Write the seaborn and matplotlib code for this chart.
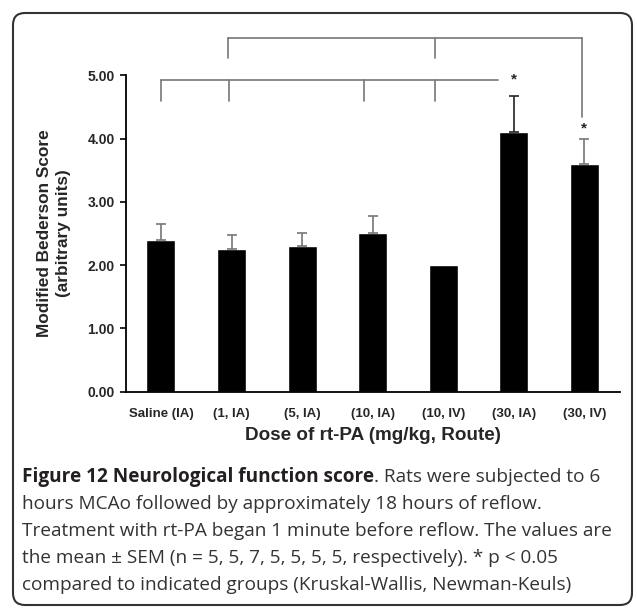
import matplotlib
matplotlib.use("Agg")
import matplotlib.pyplot as plt
import matplotlib.transforms as mtransforms
from matplotlib.patches import FancyBboxPatch
from matplotlib.ticker import FixedLocator, FormatStrFormatter
import pandas as pd
import seaborn as sns

""" Données """
groups = ["Saline (IA)", "(1, IA)", "(5, IA)", "(10, IA)", "(10, IV)", "(30, IA)", "(30, IV)"]
score_mean = [2.40, 2.25, 2.30, 2.50, 2.00, 4.10, 3.60]
score_sem = [0.25, 0.22, 0.20, 0.28, 0.00, 0.57, 0.40]

df = pd.DataFrame({"group": groups, "score": score_mean})

sns.set_style("white")
plt.rcParams['font.family'] = ['Liberation Sans Narrow', 'Liberation Sans', 'DejaVu Sans']

fig = plt.figure(figsize=(6.37, 6.09), dpi=100)
ax = fig.add_axes([0.1973, 0.3571, 0.7755, 0.5193])

sns.barplot(data=df, x="group", y="score", color="black", width=0.41,
            saturation=1, errorbar=None, ax=ax)

# barres d'erreur (SEM, côté haut seulement)
for i, (m, s) in enumerate(zip(score_mean, score_sem)):
    if s > 0:
        c = "#222222" if i == 5 else "#777777"
        ax.errorbar(i, m, yerr=[[0], [s]], fmt="none", ecolor=c,
                    elinewidth=1.2, capsize=3.5, capthick=1.2)

ax.set_xlim(-0.5, 6.5)
ax.set_ylim(0, 5)
ax.set_yticks([0, 1, 2, 3, 4, 5])
ax.yaxis.set_major_formatter(FormatStrFormatter("%.2f"))
ax.xaxis.set_minor_locator(FixedLocator([0.5, 1.5, 2.5, 3.5, 4.5, 5.5, 6.5]))
ax.tick_params(axis="x", which="major", length=0, pad=12, labelsize=9.5)
ax.tick_params(axis="x", which="minor", length=4, width=1.2, direction="out", color="black")
ax.tick_params(axis="y", length=4, width=1.2, direction="out", color="black", labelsize=10, pad=4)
ax.tick_params(bottom=True, left=True)
for lab in ax.get_xticklabels() + ax.get_yticklabels():
    lab.set_fontweight("bold")

sns.despine(ax=ax)
for sp in ["left", "bottom"]:
    ax.spines[sp].set_color("black")
    ax.spines[sp].set_linewidth(1.3)

ax.set_xlabel("Dose of rt-PA (mg/kg, Route)", fontsize=13.6, fontweight="bold",
              family=['Liberation Sans', 'DejaVu Sans'], labelpad=5)
ax.set_ylabel("Modified Bederson Score\n(arbitrary units)", fontsize=12.4, fontweight="bold",
              family=['Liberation Sans', 'DejaVu Sans'], labelpad=12, linespacing=1.3)

# crochets de comparaison
br = dict(color="#777777", lw=1.2, clip_on=False)
ax.plot([0, 4.77], [4.93, 4.93], **br)
for xb in [0, 0.97, 2.88, 3.88]:
    ax.plot([xb, xb], [4.93, 4.59], **br)
ax.plot([0.95, 5.96], [5.59, 5.59], **br)
ax.plot([0.95, 0.95], [5.59, 5.27], **br)
ax.plot([3.88, 3.88], [5.59, 5.28], **br)
ax.plot([5.96, 5.96], [5.59, 4.34], **br)
ax.text(5, 4.94, "*", ha="center", va="center", fontsize=11, fontweight="bold")
ax.text(6, 4.16, "*", ha="center", va="center", fontsize=11, fontweight="bold")

# cadre arrondi
box = FancyBboxPatch((13, 4), 619, 592, boxstyle="round,pad=0,rounding_size=12",
                     transform=mtransforms.IdentityTransform(), fill=False,
                     edgecolor="#333333", linewidth=1.5)
fig.patches.append(box)

# légende de la figure
cap_font = ['Open Sans', 'DejaVu Sans']
x0, fs = 22 / 637, 13.7
t1 = fig.text(x0, 1 - 477 / 609, "Figure 12 Neurological function score", fontsize=fs,
              fontweight="bold", family=cap_font, color="#231f20", va="center")
fig.canvas.draw()
bb = t1.get_window_extent(fig.canvas.get_renderer())
fig.text(bb.x1 / 637, 1 - 477 / 609, ". Rats were subjected to 6", fontsize=fs,
         family=cap_font, color="#333333", va="center")
lines = ["hours MCAo followed by approximately 18 hours of reflow.",
         "Treatment with rt-PA began 1 minute before reflow. The values are",
         "the mean \u00b1 SEM (n = 5, 5, 7, 5, 5, 5, 5, respectively). * p < 0.05",
         "compared to indicated groups (Kruskal-Wallis, Newman-Keuls)"]
for k, line in enumerate(lines):
    fig.text(x0, 1 - (504 + 27 * k) / 609, line, fontsize=fs, family=cap_font,
             color="#333333", va="center")

fig.savefig("out.png", dpi=100)
